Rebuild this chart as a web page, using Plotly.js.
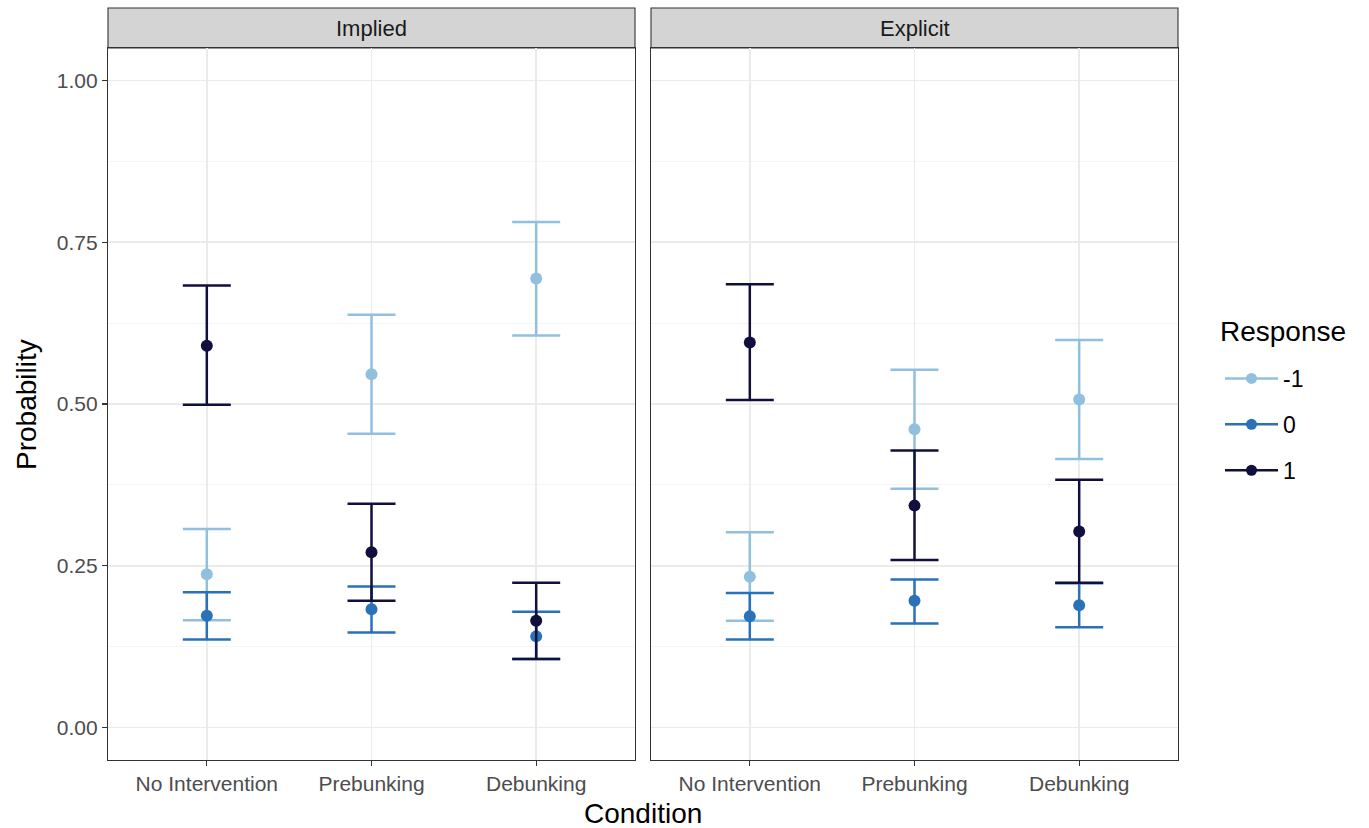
<!DOCTYPE html>
<html>
<head>
<meta charset="utf-8">
<script src="https://cdn.plot.ly/plotly-3.0.1.min.js"></script>
<style>html,body{margin:0;padding:0;background:#fff;}#chart{width:1369px;height:828px;}</style>
</head>
<body>
<div id="chart"></div>
<script>
// ---- data ----
const conditions = ["No Intervention", "Prebunking", "Debunking"];
const panels = ["Implied", "Explicit"];
const responses = ["-1", "0", "1"];
const colors = ["#91c0df", "#2a72b8", "#110f3d"];

// Implied panel
const impliedMinus1 = [0.237, 0.546, 0.694];
const impliedMinus1Lo = [0.166, 0.454, 0.606];
const impliedMinus1Hi = [0.307, 0.638, 0.781];
const implied0 = [0.173, 0.183, 0.141];
const implied0Lo = [0.136, 0.147, 0.106];
const implied0Hi = [0.209, 0.218, 0.179];
const implied1 = [0.590, 0.271, 0.165];
const implied1Lo = [0.499, 0.196, 0.106];
const implied1Hi = [0.683, 0.346, 0.224];

// Explicit panel
const explicitMinus1 = [0.233, 0.461, 0.507];
const explicitMinus1Lo = [0.165, 0.369, 0.415];
const explicitMinus1Hi = [0.302, 0.553, 0.599];
const explicit0 = [0.172, 0.196, 0.189];
const explicit0Lo = [0.136, 0.161, 0.155];
const explicit0Hi = [0.208, 0.229, 0.223];
const explicit1 = [0.595, 0.343, 0.303];
const explicit1Lo = [0.506, 0.259, 0.224];
const explicit1Hi = [0.685, 0.428, 0.383];

const panelData = [
  [[impliedMinus1, impliedMinus1Lo, impliedMinus1Hi], [implied0, implied0Lo, implied0Hi], [implied1, implied1Lo, implied1Hi]],
  [[explicitMinus1, explicitMinus1Lo, explicitMinus1Hi], [explicit0, explicit0Lo, explicit0Hi], [explicit1, explicit1Lo, explicit1Hi]]
];

const W = 1369, H = 828;
const FONT = "Liberation Sans, Arial, sans-serif";
const traces = [];
panelData.forEach((series, p) => {
  series.forEach((s, r) => {
    const [v, lo, hi] = s;
    traces.push({
      type: "scatter", mode: "markers",
      x: conditions, y: v,
      xaxis: p === 0 ? "x" : "x2", yaxis: p === 0 ? "y" : "y2",
      marker: {color: colors[r], size: 12},
      error_y: {type: "data", symmetric: false,
        array: v.map((d, i) => hi[i] - d),
        arrayminus: v.map((d, i) => d - lo[i]),
        color: colors[r], thickness: 2.5, width: 24},
      showlegend: false, hoverinfo: "skip"
    });
  });
});
// legend entries
responses.forEach((r, i) => {
  traces.push({
    type: "scatter", mode: "lines+markers", x: [null], y: [null],
    name: r, legendgroup: "g" + i,
    line: {color: colors[i], width: 2.5},
    marker: {color: colors[i], size: 11},
    xaxis: "x", yaxis: "y"
  });
});

const px = v => v / W;
const py = v => 1 - v / H;
const plotTop = 48, plotBot = 760, stripTop = 8;
const lp = [108, 635], rp = [651, 1178];

const xBase = {
  type: "category", range: [-0.6, 2.6], showgrid: true, gridcolor: "#ebebeb", gridwidth: 1.6,
  zeroline: false, showline: true, mirror: true, linecolor: "#333333", linewidth: 1.1,
  ticks: "outside", ticklen: 5, tickcolor: "#333333", tickwidth: 1.1,
  tickfont: {family: FONT, size: 21, color: "#4d4d4d"},
  fixedrange: true
};
const yBase = {
  range: [-0.05, 1.05], tickvals: [0, 0.25, 0.5, 0.75, 1], ticktext: ["0.00", "0.25", "0.50", "0.75", "1.00"],
  showgrid: true, gridcolor: "#ebebeb", gridwidth: 1.6,
  minor: {tickvals: [0.125, 0.375, 0.625, 0.875], showgrid: true, gridcolor: "#f2f2f2", gridwidth: 0.8, ticks: ""},
  zeroline: false, showline: true, mirror: true, linecolor: "#333333", linewidth: 1.1,
  ticks: "outside", ticklen: 5, tickcolor: "#333333", tickwidth: 1.1,
  tickfont: {family: FONT, size: 21, color: "#4d4d4d"},
  fixedrange: true
};

const layout = {
  width: W, height: H, margin: {l: 0, r: 0, t: 0, b: 0},
  paper_bgcolor: "#ffffff", plot_bgcolor: "#ffffff",
  font: {family: FONT},
  xaxis: Object.assign({}, xBase, {domain: [px(lp[0]), px(lp[1])], anchor: "y"}),
  xaxis2: Object.assign({}, xBase, {domain: [px(rp[0]), px(rp[1])], anchor: "y2"}),
  yaxis: Object.assign({}, yBase, {domain: [py(plotBot), py(plotTop)], anchor: "x"}),
  yaxis2: Object.assign({}, yBase, {domain: [py(plotBot), py(plotTop)], anchor: "x2", showticklabels: false, ticks: "", matches: "y"}),
  showlegend: true,
  legend: {
    x: px(1220), y: py(357), xanchor: "left", yanchor: "top",
    font: {size: 23, color: "#000000"},
    traceorder: "grouped", tracegroupgap: 13, itemwidth: 53,
    bgcolor: "rgba(0,0,0,0)"
  },
  shapes: [
    {type: "rect", xref: "paper", yref: "paper", x0: px(lp[0]), x1: px(lp[1]), y0: py(plotTop), y1: py(stripTop),
     fillcolor: "#d4d4d4", line: {color: "#333333", width: 1.1}, layer: "below"},
    {type: "rect", xref: "paper", yref: "paper", x0: px(rp[0]), x1: px(rp[1]), y0: py(plotTop), y1: py(stripTop),
     fillcolor: "#d4d4d4", line: {color: "#333333", width: 1.1}, layer: "below"}
  ],
  annotations: [
    {text: panels[0], xref: "paper", yref: "paper", x: px((lp[0] + lp[1]) / 2), y: py(28), xanchor: "center", yanchor: "middle",
     showarrow: false, font: {size: 22, color: "#1a1a1a"}},
    {text: panels[1], xref: "paper", yref: "paper", x: px((rp[0] + rp[1]) / 2), y: py(28), xanchor: "center", yanchor: "middle",
     showarrow: false, font: {size: 22, color: "#1a1a1a"}},
    {text: "Condition", xref: "paper", yref: "paper", x: px(643), y: py(813), xanchor: "center", yanchor: "middle",
     showarrow: false, font: {size: 28, color: "#000000"}},
    {text: "Probability", xref: "paper", yref: "paper", x: px(27), y: py(405), xanchor: "center", yanchor: "middle",
     textangle: -90, showarrow: false, font: {size: 28, color: "#000000"}},
    {text: "Response", xref: "paper", yref: "paper", x: px(1218), y: py(331), xanchor: "left", yanchor: "middle",
     showarrow: false, font: {size: 28, color: "#000000"}}
  ]
};

Plotly.newPlot("chart", traces, layout, {displayModeBar: false, staticPlot: true});
</script>
</body>
</html>
